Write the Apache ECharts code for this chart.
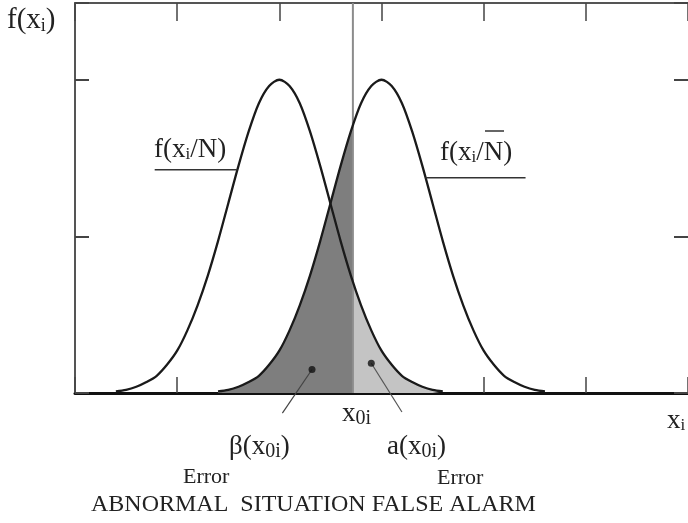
<!DOCTYPE html>
<html>
<head>
<meta charset="utf-8">
<script src="https://cdn.jsdelivr.net/npm/echarts@6/dist/echarts.min.js"></script>
<style>
html,body{margin:0;padding:0;background:#fff;}
#chart{width:688px;height:523px;}
</style>
</head>
<body>
<div id="chart"></div>
<script>
// Normal situation density f(xi/N)
const normalX = [0.4,0.5,0.6,0.7,0.8,0.9,1.0,1.1,1.2,1.3,1.4,1.5,1.6,1.7,1.8,1.9,2.0,2.1,2.2,2.3,2.4,2.5,2.6,2.7,2.8,2.9,3.0,3.1,3.2,3.3,3.4,3.5,3.6];
const normalY = [0.01,0.02,0.04,0.07,0.11,0.18,0.27,0.40,0.56,0.75,0.97,1.21,1.45,1.67,1.85,1.96,2.00,1.96,1.85,1.67,1.45,1.21,0.97,0.75,0.56,0.40,0.27,0.18,0.11,0.07,0.04,0.02,0.01];
// Abnormal situation density f(xi/N̄)
const abnormalX = [1.4,1.5,1.6,1.7,1.8,1.9,2.0,2.1,2.2,2.3,2.4,2.5,2.6,2.7,2.8,2.9,3.0,3.1,3.2,3.3,3.4,3.5,3.6,3.7,3.8,3.9,4.0,4.1,4.2,4.3,4.4,4.5,4.6];
const abnormalY = [0.01,0.02,0.04,0.07,0.11,0.18,0.27,0.40,0.56,0.75,0.97,1.21,1.45,1.67,1.85,1.96,2.00,1.96,1.85,1.67,1.45,1.21,0.97,0.75,0.56,0.40,0.27,0.18,0.11,0.07,0.04,0.02,0.01];
// Threshold x0i and curve heights at the threshold
const threshold = [2.72];
const betaEdgeY = [1.71];
const alphaEdgeY = [0.71];
// Axis extent and tick spacing
const xRange = [0, 6];
const yRange = [0, 2.49];
const tickStep = [1];

const normalData = normalX.map((x, i) => [x, normalY[i]]);
const abnormalData = abnormalX.map((x, i) => [x, abnormalY[i]]);
const betaData = abnormalData.filter(p => p[0] <= threshold[0]).concat([[threshold[0], betaEdgeY[0]]]);
const alphaData = [[threshold[0], alphaEdgeY[0]]].concat(normalData.filter(p => p[0] > threshold[0]));

const FONT = '"Liberation Serif","DejaVu Serif",serif';
const chart = echarts.init(document.getElementById('chart'), null, {renderer: 'canvas'});

function axisX(pos, lw, col, tlen) {
  return {
    type: 'value', min: xRange[0], max: xRange[1], interval: tickStep[0], position: pos,
    axisLine: {show: true, onZero: false, lineStyle: {color: col, width: lw}},
    axisTick: {show: true, inside: true, length: tlen, lineStyle: {color: '#444', width: 1.5}},
    axisLabel: {show: false}, splitLine: {show: false}
  };
}
function axisY(pos, showLine) {
  return {
    type: 'value', min: yRange[0], max: yRange[1], interval: tickStep[0], position: pos,
    axisLine: {show: showLine, onZero: false, lineStyle: {color: '#555', width: 2}},
    axisTick: {show: true, inside: true, length: 14, lineStyle: {color: '#444', width: 2}},
    axisLabel: {show: false}, splitLine: {show: false}
  };
}

function txt(x, y, text, size, rich) {
  return {
    type: 'text', x: x, y: y, z: 100,
    style: {
      text: text, fill: '#222', fontFamily: FONT, fontSize: size,
      align: 'left', verticalAlign: 'middle', rich: rich || {}
    }
  };
}
function sub(size, pad) {
  return {fontFamily: FONT, fontSize: size, fill: '#222', padding: [pad, 0, 0, 0]};
}

const option = {
  animation: false,
  backgroundColor: '#fff',
  grid: {left: 75, top: 3, width: 616, height: 390, containLabel: false},
  xAxis: [axisX('bottom', 3, '#111', 16), axisX('top', 2, '#555', 18)],
  yAxis: [axisY('left', true), axisY('right', false)],
  series: [
    {type: 'line', data: betaData, smooth: 0.3, showSymbol: false, symbol: 'none',
     lineStyle: {width: 0}, areaStyle: {color: '#7e7e7e', opacity: 1}, z: 1},
    {type: 'line', data: alphaData, smooth: 0.3, showSymbol: false, symbol: 'none',
     lineStyle: {width: 0}, areaStyle: {color: '#c4c4c4', opacity: 1}, z: 1},
    {type: 'line', data: [[threshold[0], yRange[0]], [threshold[0], yRange[1]]], symbol: 'none',
     lineStyle: {color: '#8c8c8c', width: 2}, z: 2},
    {type: 'line', data: normalData, smooth: 0.3, symbol: 'none',
     lineStyle: {color: '#1a1a1a', width: 2.3}, z: 3},
    {type: 'line', data: abnormalData, smooth: 0.3, symbol: 'none',
     lineStyle: {color: '#1a1a1a', width: 2.3}, z: 3},
    // label underlines
    {type: 'line', data: [[0.78, 1.425], [1.59, 1.425]], symbol: 'none', clip: false,
     lineStyle: {color: '#333', width: 1.5}, z: 3},
    {type: 'line', data: [[3.43, 1.374], [4.41, 1.374]], symbol: 'none', clip: false,
     lineStyle: {color: '#333', width: 1.5}, z: 3},
    // pointer lines
    {type: 'line', data: [[2.32, 0.15], [2.03, -0.128]], symbol: 'none', clip: false,
     lineStyle: {color: '#444', width: 1.2}, z: 4},
    {type: 'line', data: [[2.90, 0.19], [3.20, -0.121]], symbol: 'none', clip: false,
     lineStyle: {color: '#555', width: 1.2}, z: 4},
    {type: 'scatter', data: [[2.32, 0.15], [2.90, 0.19]], symbolSize: 7,
     itemStyle: {color: '#111'}, z: 5}
  ],
  graphic: [
    txt(7, 20, 'f(x{s|i})', 29, {s: sub(18, 12)}),
    txt(154, 150, 'f(x{s|i}/N)', 27, {s: sub(17, 10)}),
    txt(440, 153, 'f(x{s|i}/N)', 27, {s: sub(17, 10)}),
    {type: 'line', z: 100, shape: {x1: 485, y1: 131, x2: 504, y2: 131}, style: {stroke: '#333', lineWidth: 1.5}},
    txt(342, 414, 'x{s|0i}', 27, {s: sub(20, 10)}),
    txt(667, 421, 'x{s|i}', 27, {s: sub(17, 10)}),
    txt(229, 447, 'β(x{s|0i})', 27, {s: sub(20, 10)}),
    txt(387, 447, 'a(x{s|0i})', 27, {s: sub(20, 10)}),
    txt(183, 477, 'Error', 22),
    txt(437, 478, 'Error', 22),
    txt(91, 505, 'ABNORMAL  SITUATION FALSE ALARM', 24)
  ]
};
chart.setOption(option);
</script>
</body>
</html>
